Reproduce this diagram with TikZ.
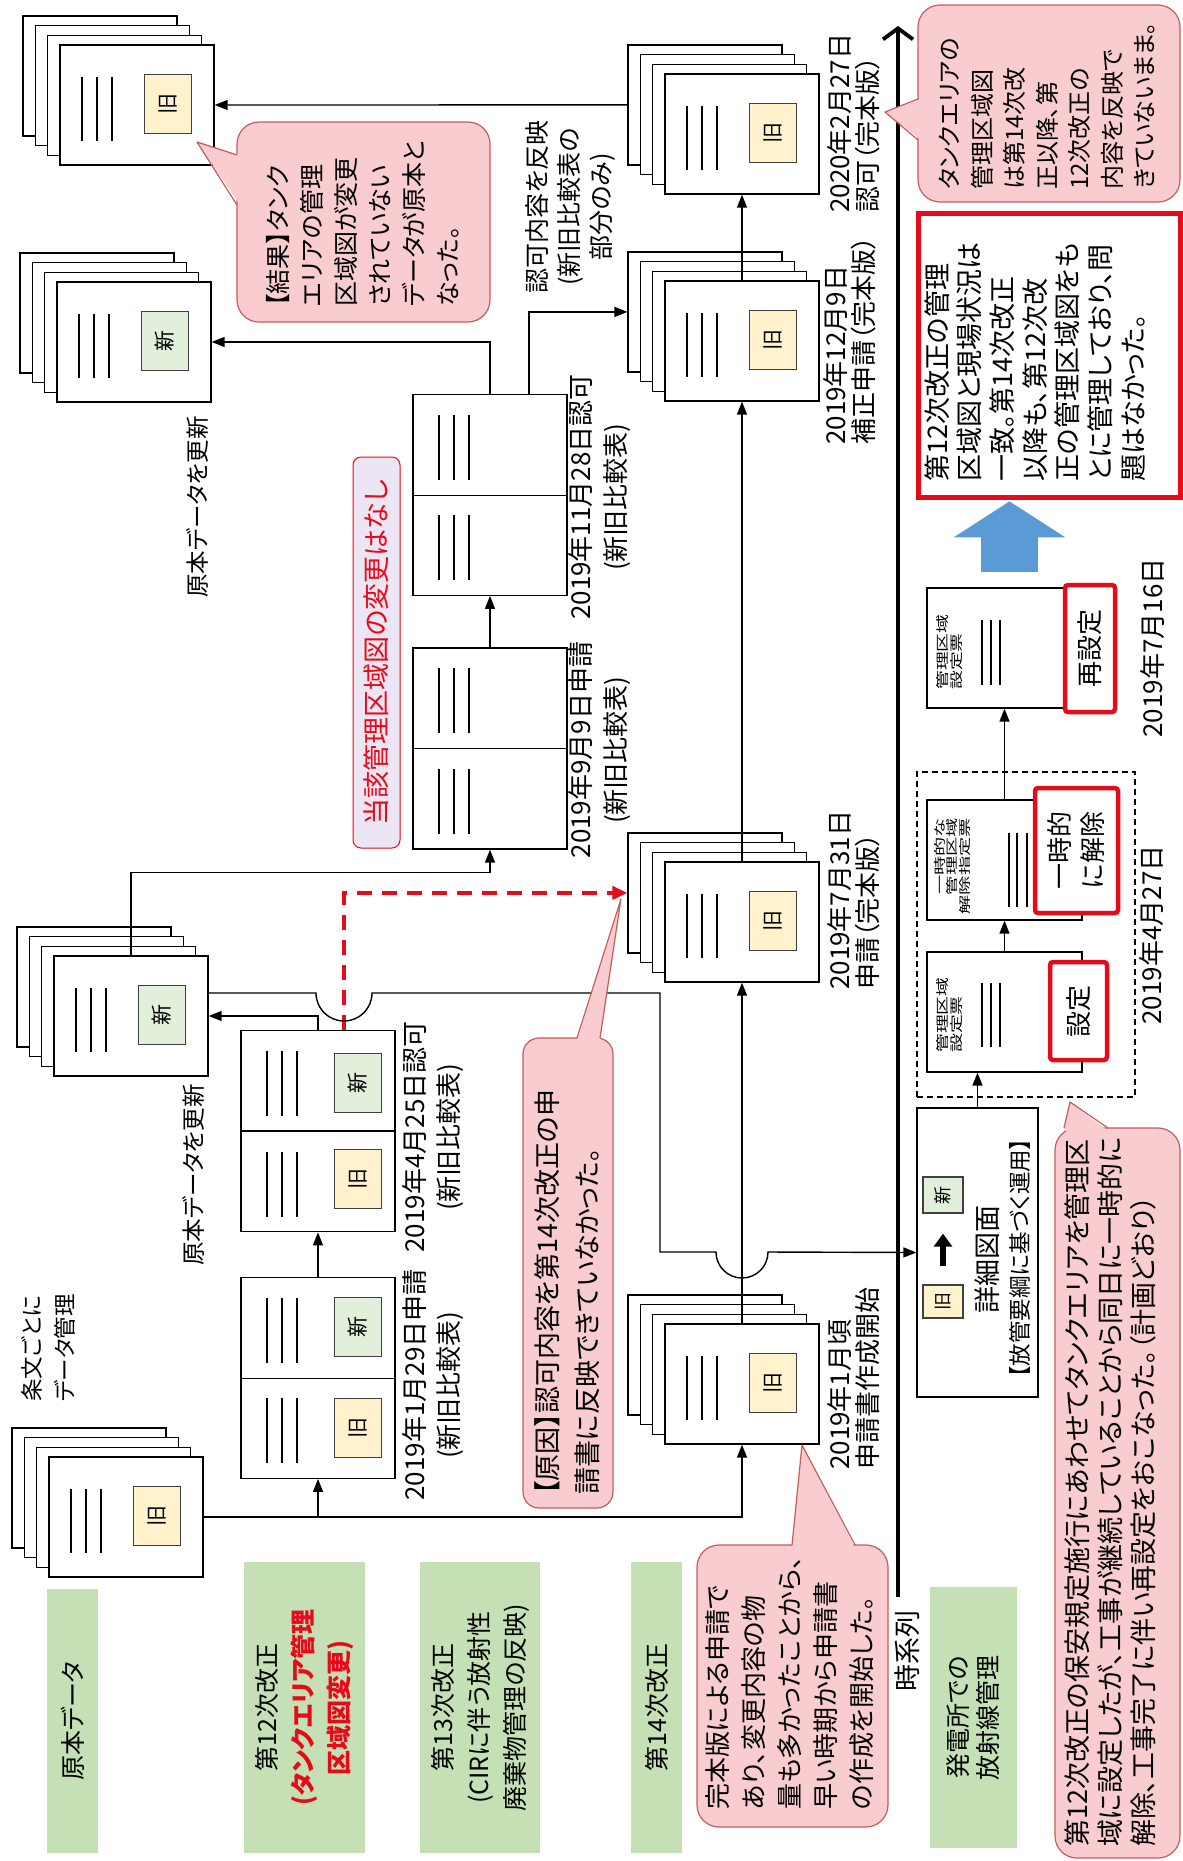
\documentclass[tikz,border=0pt]{standalone}
\usepackage{fontspec}
\setmainfont{Noto Sans CJK JP}[RawFeature=+palt]
\usetikzlibrary{arrows.meta}
\definecolor{laneGreen}{RGB}{197,224,180}
\definecolor{oldYellow}{RGB}{255,242,204}
\definecolor{newGreen}{RGB}{226,239,218}
\definecolor{notePink}{RGB}{249,204,207}
\definecolor{noteEdge}{RGB}{196,92,96}
\definecolor{alertRed}{RGB}{228,12,26}
\definecolor{arrowBlue}{RGB}{91,155,213}
\definecolor{tagLilac}{RGB}{236,230,244}
\newcommand{\jfs}[2]{\fontsize{#1pt}{#2pt}\selectfont}
\newcommand{\RedBold}[1]{\textcolor{alertRed}{\bfseries #1}}
\newcommand{\DocStack}[5]{%
  \foreach \k in {3,2,1}{\node[docpage] (#1-\k) at ({#2-12.3*\k},{#3-9.7*\k}) {};}
  \node[docpage] (#1) at (#2,#3) {};
  \foreach \dx in {-55,-40,-25}{\draw[textline] ({#2+\dx},{#3-28}) -- ({#2+\dx},{#3+36});}
  \node[#4] (#1-tag) at ({#2+31},{#3-1}) {#5};}
\newcommand{\HalfPage}[3]{%
  \node[halfpage] (#1) at (#2,#3) {};
  \foreach \dx in {-51,-36,-21}{\draw[textline] ({#2+\dx},{#3-30}) -- ({#2+\dx},{#3+35});}}
\tikzset{
  docpage/.style={draw, fill=white, line width=1.3pt, minimum width=154pt, minimum height=120pt, inner sep=0pt},
  halfpage/.style={docpage, minimum height=100.5pt},
  textline/.style={line width=1.3pt},
  tagbox/.style={rotate=90, draw=black!75, line width=1.2pt, minimum width=59pt, minimum height=47pt, inner sep=0pt, font=\jfs{21}{21}},
  oldtag/.style={tagbox, fill=oldYellow},
  newtag/.style={tagbox, fill=newGreen},
  lane/.style={rotate=90, fill=laneGreen, inner sep=0pt, align=center, font=\jfs{25}{36}},
  vtext/.style={rotate=90, inner sep=0pt, align=center},
  note/.style={draw=noteEdge, fill=notePink, line width=1.2pt, rounded corners=22pt, inner sep=0pt},
  noteline/.style={draw=noteEdge, line width=1.2pt, line join=round},
  redbox/.style={rotate=90, draw=alertRed, fill=white, line width=4.5pt, rounded corners=3pt, inner sep=0pt, align=center, font=\jfs{26}{33}},
  conn/.style={line width=1.4pt, -{Triangle[length=13pt,width=10pt]}},
  redconn/.style={alertRed, line width=3.6pt, dash pattern=on 15pt off 10pt, -{Triangle[length=15pt,width=13pt]}},
  timeaxis/.style={line width=3.8pt, -{Straight Barb[length=11pt,width=30pt]}},
  bigarrow/.style={arrowBlue, line width=57pt, -{Triangle[length=36pt,width=110pt]}}
}
\begin{document}
\begin{tikzpicture}[x=1pt, y=-1pt]
\useasboundingbox (0,0) rectangle (1183,1861);

% lanes
\node[lane, minimum width=264pt, minimum height=51pt] (lane0) at (72.5,1721) {原本データ};
\node[lane, minimum width=291pt, minimum height=121pt] (lane12) at (304.5,1707.5) {第12次改正\\\RedBold{(タンクエリア管理}\\\RedBold{区域図変更)}};
\node[lane, minimum width=291pt, minimum height=120pt] (lane13) at (480,1707.5) {第13次改正\\(CIRに伴う放射性\\廃棄物管理の反映)};
\node[lane, minimum width=291pt, minimum height=51pt] (lane14) at (656.5,1707.5) {第14次改正};
\node[lane, minimum width=261pt, minimum height=87pt, font=\jfs{25}{30}] (laneRad) at (973.5,1717.5) {発電所での\\放射線管理};

% document stacks
\DocStack{genD}{137}{105}{oldtag}{旧}
\DocStack{genC}{134}{342}{newtag}{新}
\DocStack{genB}{131}{1016}{newtag}{新}
\DocStack{genA}{126}{1517}{oldtag}{旧}
\DocStack{st14a}{742}{1384}{oldtag}{旧}
\DocStack{st14b}{742}{922}{oldtag}{旧}
\DocStack{st14c}{742}{341}{oldtag}{旧}
\DocStack{st14d}{742}{134}{oldtag}{旧}

% comparison tables
\HalfPage{k12aL}{318}{1428} \node[oldtag] (k12aL-tag) at (358,1428) {旧};
\HalfPage{k12aU}{318}{1328} \node[newtag] (k12aU-tag) at (358,1327) {新};
\HalfPage{k12bL}{318}{1181.5} \node[oldtag] (k12bL-tag) at (358,1179) {旧};
\HalfPage{k12bU}{318}{1080.5} \node[newtag] (k12bU-tag) at (358,1083) {新};
\HalfPage{k13aL}{490}{798.75}
\HalfPage{k13aU}{490}{698.25}
\HalfPage{k13bL}{490}{545}
\HalfPage{k13bU}{490}{445}

% labels
\node[vtext, font=\jfs{22.5}{33}, align=left] (lblPerArt) at (48,1348) {条文ごとに\\データ管理};
\node[vtext, font=\jfs{23.5}{24}] (lblUpd1) at (197,507) {原本データを更新};
\node[vtext, font=\jfs{23.5}{24}] (lblUpd2) at (193,1175) {原本データを更新};
\node[vtext, font=\jfs{26}{34}] (lbl12a) at (433,1385) {2019年1月29日申請\\(新旧比較表)};
\node[vtext, font=\jfs{26}{34}] (lbl12b) at (433,1137) {2019年4月25日認可\\(新旧比較表)};
\node[vtext, font=\jfs{26}{35}] (lbl13a) at (600,750) {2019年9月9日申請\\(新旧比較表)};
\node[vtext, font=\jfs{26}{35}] (lbl13b) at (600,497) {2019年11月28日認可\\(新旧比較表)};
\node[vtext, font=\jfs{25}{32}] (lblRefl) at (570,207) {認可内容を反映\\(新旧比較表の\\部分のみ)};
\node[vtext, font=\jfs{26}{28}, anchor=west, align=left] (lbl14a) at (854,1470) {2019年1月頃\\申請書作成開始};
\node[vtext, font=\jfs{26}{28}, anchor=west, align=left] (lbl14b) at (854,990) {2019年7月31日\\申請（完本版）};
\node[vtext, font=\jfs{26}{28}, anchor=west, align=left] (lbl14c) at (850,445) {2019年12月9日\\補正申請（完本版）};
\node[vtext, font=\jfs{26}{28}, anchor=west, align=left] (lbl14d) at (854,213) {2020年2月27日\\認可（完本版）};
\node[rotate=90, draw=alertRed, fill=tagLilac, rounded corners=8pt, line width=1pt, minimum width=391pt, minimum height=47pt, inner sep=0pt, text=alertRed, font=\jfs{27}{27}] (noChange) at (376.5,652.5) {当該管理区域図の変更はなし};

% time axis
\coordinate (tBegin) at (898,1597);
\coordinate (tEnd) at (898,26);
\draw[timeaxis] (tBegin) -- (tEnd);
\node[vtext, font=\jfs{27}{27}, anchor=east] (lblTime) at (907,1610) {時系列};

% radiation control at the plant
\node[draw, line width=1.3pt, minimum width=121pt, minimum height=289pt, inner sep=0pt] (det) at (977.5,1252.5) {};
\node[tagbox, fill=oldYellow, minimum width=33pt, minimum height=40pt, font=\jfs{18}{18}] (detOld) at (943,1301.5) {旧};
\node[tagbox, fill=newGreen, minimum width=36pt, minimum height=40pt, font=\jfs{18}{18}] (detNew) at (943,1195) {新};
\draw[line width=6pt, -{Triangle[length=13pt,width=18pt]}, shorten <=18pt, shorten >=20pt] (detOld) -- (detNew);
\node[vtext, font=\jfs{27}{27}] (detTitle) at (987,1259) {詳細図面};
\node[vtext, font=\jfs{22.5}{22.5}] (detRule) at (1020,1258) {【放管要綱に基づく運用】};

\node[draw, dash pattern=on 6pt off 4pt, line width=1.1pt, minimum width=218pt, minimum height=325pt, inner sep=0pt] (grp) at (1026,934.5) {};
\node[docpage, minimum width=155pt] (kSet) at (1004.5,1012) {};
\node[docpage, minimum width=155pt] (kTmp) at (1004.5,860) {};
\node[docpage, minimum width=155pt] (kReset) at (1004.5,648) {};
\foreach \dx in {-22.5,-13.5,-4.5}{
  \draw[textline] ({1004.5+\dx},983) -- ({1004.5+\dx},1047);
  \draw[textline] ({1004.5+\dx},620) -- ({1004.5+\dx},685);}
\foreach \dx in {4.5,12.5,22.5}{\draw[textline] ({1004.5+\dx},833) -- ({1004.5+\dx},907);}
\node[vtext, xscale=1.45, font=\jfs{13}{14}, anchor=west, align=left] (tSet) at (950,1053) {管理区域\\設定票};
\node[vtext, xscale=1.45, font=\jfs{13}{14}, anchor=west, align=left] (tReset) at (950,690) {管理区域\\設定票};
\node[vtext, xscale=1.6, font=\jfs{12}{12.5}, anchor=east, align=right] (tTmp) at (952,818) {一時的な\\管理区域\\解除指定票};
\node[redbox, minimum width=98pt, minimum height=57pt] (rSet) at (1078.5,1011) {設定};
\node[redbox, minimum width=125pt, minimum height=83pt] (rTmp) at (1076.5,850.5) {一時的\\に解除};
\node[redbox, minimum width=127pt, minimum height=50pt] (rReset) at (1090,648.5) {再設定};
\node[vtext, font=\jfs{26}{26}] (lblApr27) at (1152,935) {2019年4月27日};
\node[vtext, font=\jfs{26}{26}] (lblJul16) at (1153,648) {2019年7月16日};

\node[draw=alertRed, line width=5pt, fill=white, minimum width=262pt, minimum height=284pt, inner sep=0pt] (bigRed) at (1049,355) {};
\node[vtext, anchor=west, align=left, font=\jfs{27}{32.7}] (bigRed-txt) at (1035,482) {第12次改正の管理\\区域図と現場状況は\\一致。第14次改正\\以降も、第12次改\\正の管理区域図をも\\とに管理しており、問\\題はなかった。};
\draw[bigarrow] ([xshift=5pt,yshift=15pt]kReset.north) -- ++(0,-71);

% connectors
\draw[redconn] ([xshift=26pt]k12bU.north) |- (st14b-3.west);
\draw[conn] (genA.east) -| (k12aL.south);
\draw[conn] (genA.east) -| (st14a.south);
\draw[conn] (k12aU.north) -- (k12bL.south);
\draw[conn] (k12bU.north) |- (genB.east);
\draw[conn] ([yshift=23pt]genB.east) -- (316,993) arc[start angle=180, end angle=0, radius=28]
  -- (660,993) |- (716,1252) arc[start angle=180, end angle=0, radius=26] -- (det.west);
\draw[conn] (genB.north) |- ([yshift=-23pt]k13aL.south) -- (k13aL.south);
\draw[conn] (k13aU.north) -- (k13bL.south);
\draw[conn] (k13bU.north) |- (genC.east);
\draw[conn] ([xshift=39pt]k13bU.north) |- (st14c-3.west);
\draw[conn] (st14a.north) -- (st14b.south);
\draw[conn] (st14b.north) -- (st14c.south);
\draw[conn] (st14c.north) -- (st14d.south);
\draw[conn] (st14d-3.west) -- (genD.east);
\draw[conn] (det.north) -- (det.north |- kSet.south);
\draw[conn] (kSet.north) -- (kTmp.south);
\draw[conn] (kTmp.north) -- (kReset.south);

% callouts
\node[note, minimum width=253pt, minimum height=200pt] (noteResult) at (363.5,222) {};
\fill[notePink] (240,155) -- (197,142) -- (240,205) -- cycle;
\draw[noteline] (237,155) -- (197,142) -- (237,205);
\node[vtext, anchor=west, align=left, font=\jfs{25}{34}] (noteResult-txt) at (363,307) {【結果】タンク\\エリアの管理\\区域図が変更\\されていない\\データが原本と\\なった。};

\node[note, rounded corners=16pt, minimum width=90pt, minimum height=470pt] (noteCause) at (568,1273) {};
\fill[notePink] (577,1041) -- (621,899) -- (600,1041) -- cycle;
\draw[noteline] (577,1038) -- (621,899) -- (600,1038);
\node[vtext, anchor=west, align=left, font=\jfs{27}{40}] (noteCause-txt) at (567,1495) {【原因】認可内容を第14次改正の申\\請書に反映できていなかった。};

\node[note, minimum width=191pt, minimum height=282pt] (noteEarly) at (792.5,1686) {};
\fill[notePink] (792,1548) -- (802,1445) -- (855,1548) -- cycle;
\draw[noteline] (792,1545) -- (802,1445) -- (855,1545);
\node[vtext, anchor=west, align=left, font=\jfs{26}{36}] (noteEarly-txt) at (790,1810) {完本版による申請で\\あり、変更内容の物\\量も多かったことから、\\早い時期から申請書\\の作成を開始した。};

\node[note, minimum width=262pt, minimum height=197pt] (noteStale) at (1049,103.5) {};
\fill[notePink] (921,99) -- (885,112) -- (921,140) -- cycle;
\draw[noteline] (918,99) -- (885,112) -- (918,140);
\node[vtext, anchor=west, align=left, font=\jfs{24}{32.5}] (noteStale-txt) at (1047,190) {タンクエリアの\\管理区域図\\は第14次改\\正以降、第\\12次改正の\\内容を反映で\\きていないまま。};

\node[note, minimum width=125pt, minimum height=730pt] (notePlan) at (1117.5,1493) {};
\fill[notePink] (1064,1131) -- (1070,1102) -- (1108,1131) -- cycle;
\draw[noteline] (1064,1128) -- (1070,1102) -- (1108,1128);
\node[vtext, anchor=west, align=left, font=\jfs{27}{33}] (notePlan-txt) at (1110,1847) {第12次改正の保安規定施行にあわせてタンクエリアを管理区\\域に設定したが、工事が継続していることから同日に一時的に\\解除、工事完了に伴い再設定をおこなった。（計画どおり）};
\end{tikzpicture}
\end{document}
